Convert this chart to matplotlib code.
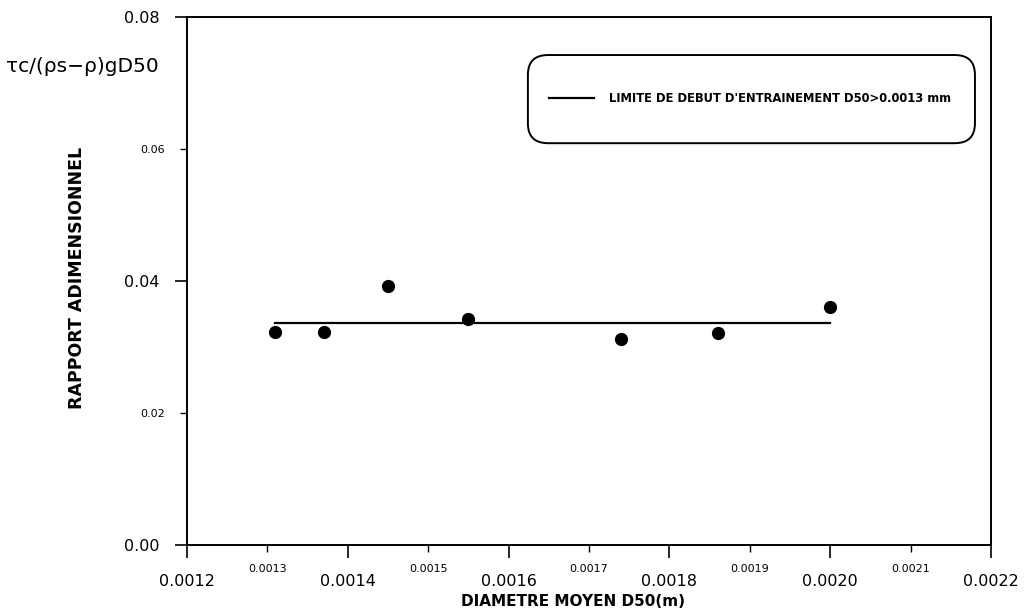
import matplotlib
matplotlib.use("Agg")
import matplotlib.pyplot as plt
from matplotlib.patches import FancyBboxPatch

# ---- data ----
d50 = [0.00131, 0.00137, 0.00145, 0.00155, 0.00174, 0.00186, 0.00200]
ratio = [0.0322, 0.0322, 0.0392, 0.0342, 0.0312, 0.0321, 0.0361]
limit_x = [0.00131, 0.00200]
limit_y = [0.0337, 0.0337]

x_major = [0.0012, 0.0014, 0.0016, 0.0018, 0.0020, 0.0022]
x_major_labels = ["0.0012", "0.0014", "0.0016", "0.0018", "0.0020", "0.0022"]
x_minor = [0.0013, 0.0015, 0.0017, 0.0019, 0.0021]
x_minor_labels = ["0.0013", "0.0015", "0.0017", "0.0019", "0.0021"]
y_major = [0.00, 0.04, 0.08]
y_major_labels = ["0.00", "0.04", "0.08"]
y_minor = [0.02, 0.06]
y_minor_labels = ["0.02", "0.06"]

legend_label = "LIMITE DE DEBUT D'ENTRAINEMENT D50>0.0013 mm"

# ---- figure ----
fig = plt.figure(figsize=(10.24, 6.14), dpi=100)
ax = fig.add_axes([0.1826, 0.1124, 0.7852, 0.8599])

ax.plot(d50, ratio, "o", color="black", markersize=8.5, zorder=3)
line, = ax.plot(limit_x, limit_y, "-", color="black", linewidth=1.6)

ax.set_xlim(0.0012, 0.0022)
ax.set_ylim(0.0, 0.08)

ax.set_xticks(x_major)
ax.set_xticklabels(x_major_labels)
ax.set_xticks(x_minor, minor=True)
ax.set_xticklabels(x_minor_labels, minor=True)
ax.set_yticks(y_major)
ax.set_yticklabels(y_major_labels)
ax.set_yticks(y_minor, minor=True)
ax.set_yticklabels(y_minor_labels, minor=True)

ax.tick_params(axis="both", which="major", direction="out", length=9,
               width=1.2, labelsize=11.5)
ax.tick_params(axis="both", which="minor", direction="out", length=5,
               width=1.0, labelsize=8)
ax.tick_params(axis="x", which="major", pad=12)
ax.tick_params(axis="x", which="minor", pad=9)
ax.tick_params(axis="y", which="both", pad=11)

for s in ax.spines.values():
    s.set_linewidth(1.4)

ax.set_xlabel("DIAMETRE MOYEN D50(m)", fontsize=11, fontweight="bold")
ax.xaxis.set_label_coords(0.4795, -0.092)
ax.set_ylabel("RAPPORT ADIMENSIONNEL", fontsize=12.5, fontweight="bold")
ax.yaxis.set_label_coords(-0.126, 0.505)

# quantity label at the top left
fig.text(0.006, 0.891, "\u03c4c/(\u03c1s\u2212\u03c1)gD50", fontsize=14.5,
         ha="left", va="center")

# rounded legend box
box = FancyBboxPatch((0.424, 0.761), 0.556, 0.167,
                     boxstyle="round,pad=0,rounding_size=0.025",
                     mutation_aspect=1.5, transform=ax.transAxes,
                     facecolor="white", edgecolor="black", linewidth=1.4,
                     zorder=4)
ax.add_patch(box)
leg_fonts = ["Noto Sans Condensed Bold", "Noto Sans Condensed",
             "DejaVu Sans"]
leg = ax.legend([line], [legend_label], loc="center left",
                bbox_to_anchor=(0.4497, 0.845), frameon=False,
                borderpad=0, borderaxespad=0, handlelength=3.5,
                handletextpad=1.15,
                prop={"family": leg_fonts, "weight": "bold",
                      "stretch": "condensed", "size": 9.3})
leg.set_zorder(5)

fig.savefig("out.png", dpi=100)
